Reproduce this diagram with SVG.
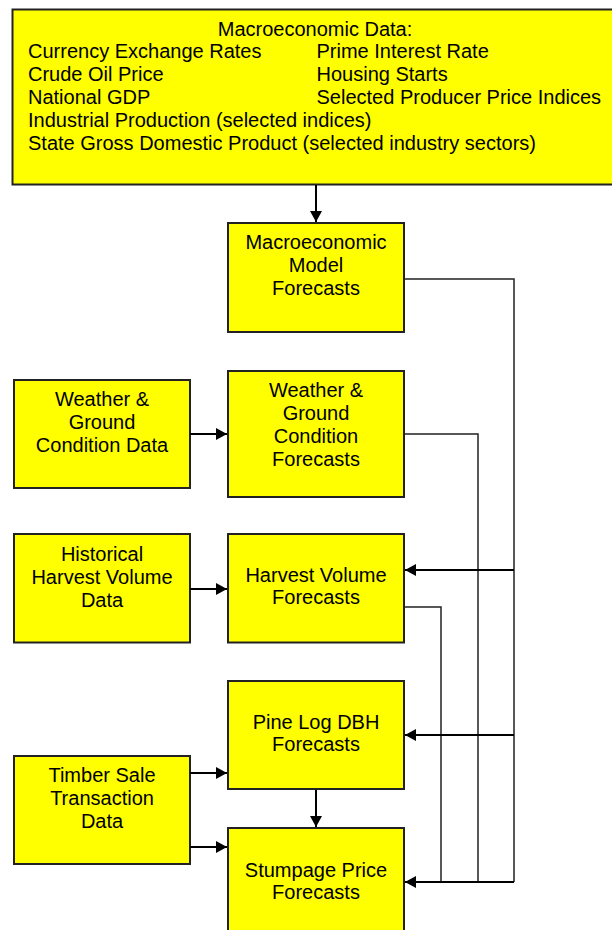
<svg xmlns="http://www.w3.org/2000/svg" width="612" height="930" viewBox="0 0 612 930">
<style>
.box{fill:#ffff00;stroke:#222;stroke-width:2}
.t{font-family:"Liberation Sans",Arial,sans-serif;font-size:20px;fill:#000}
.c{text-anchor:middle}
.ln{fill:none;stroke:#222;stroke-width:1.5}
.ar{fill:none;stroke:#000;stroke-width:2;marker-end:url(#ah)}
</style>
<defs>
<marker id="ah" markerUnits="userSpaceOnUse" markerWidth="12" markerHeight="12" refX="11" refY="6" orient="auto">
<path d="M0,0 L11,6 L0,12 z" fill="#000"/>
</marker>
</defs>
<rect width="612" height="930" fill="#fff"/>
<g id="macro-data">
<rect class="box" x="12.5" y="9.5" width="620" height="175"/>
<text class="t c" x="315" y="36">Macroeconomic Data:</text>
<text class="t" x="28" y="58">Currency Exchange Rates</text>
<text class="t" x="316.5" y="58">Prime Interest Rate</text>
<text class="t" x="28" y="81">Crude Oil Price</text>
<text class="t" x="316.5" y="81">Housing Starts</text>
<text class="t" x="28" y="104">National GDP</text>
<text class="t" x="316.5" y="104">Selected Producer Price Indices</text>
<text class="t" x="28" y="127">Industrial Production (selected indices)</text>
<text class="t" x="28" y="150">State Gross Domestic Product (selected industry sectors)</text>
</g>
<g id="macro-model">
<rect class="box" x="228" y="223" width="176" height="109"/>
<text class="t c" x="316" y="249">Macroeconomic</text>
<text class="t c" x="316" y="272">Model</text>
<text class="t c" x="316" y="295">Forecasts</text>
</g>
<g id="weather-data">
<rect class="box" x="14" y="380" width="176" height="108"/>
<text class="t c" x="102" y="406">Weather &amp;</text>
<text class="t c" x="102" y="429">Ground</text>
<text class="t c" x="102" y="452">Condition Data</text>
</g>
<g id="weather-forecast">
<rect class="box" x="228" y="371" width="176" height="126"/>
<text class="t c" x="316" y="397">Weather &amp;</text>
<text class="t c" x="316" y="420">Ground</text>
<text class="t c" x="316" y="443">Condition</text>
<text class="t c" x="316" y="466">Forecasts</text>
</g>
<g id="harvest-data">
<rect class="box" x="14" y="534" width="176" height="108.5"/>
<text class="t c" x="102" y="561">Historical</text>
<text class="t c" x="102" y="584">Harvest Volume</text>
<text class="t c" x="102" y="607">Data</text>
</g>
<g id="harvest-forecast">
<rect class="box" x="228" y="534" width="176" height="108.5"/>
<text class="t c" x="316" y="582">Harvest Volume</text>
<text class="t c" x="316" y="604">Forecasts</text>
</g>
<g id="pine-forecast">
<rect class="box" x="228" y="681" width="176" height="108"/>
<text class="t c" x="316" y="729">Pine Log DBH</text>
<text class="t c" x="316" y="751">Forecasts</text>
</g>
<g id="timber-data">
<rect class="box" x="14" y="756" width="176" height="108"/>
<text class="t c" x="102" y="782">Timber Sale</text>
<text class="t c" x="102" y="805">Transaction</text>
<text class="t c" x="102" y="828">Data</text>
</g>
<g id="stumpage-forecast">
<rect class="box" x="228" y="828" width="176" height="120"/>
<text class="t c" x="316" y="877">Stumpage Price</text>
<text class="t c" x="316" y="899">Forecasts</text>
</g>
<g id="connectors">
<line class="ar" x1="316" y1="185" x2="316" y2="222"/>
<polyline class="ln" points="404,279 514,279 514,882"/>
<polyline class="ln" points="404,434 478,434 478,882"/>
<polyline class="ln" points="404,607 441,607 441,882"/>
<line class="ar" x1="190" y1="434" x2="227" y2="434"/>
<line class="ar" x1="190" y1="589" x2="227" y2="589"/>
<line class="ar" x1="190" y1="773" x2="227" y2="773"/>
<line class="ar" x1="190" y1="847" x2="227" y2="847"/>
<line class="ar" x1="316" y1="790" x2="316" y2="827"/>
<line class="ar" x1="514" y1="570" x2="405" y2="570"/>
<line class="ar" x1="514" y1="735" x2="405" y2="735"/>
<line class="ar" x1="514" y1="882" x2="405" y2="882"/>
</g>
</svg>
